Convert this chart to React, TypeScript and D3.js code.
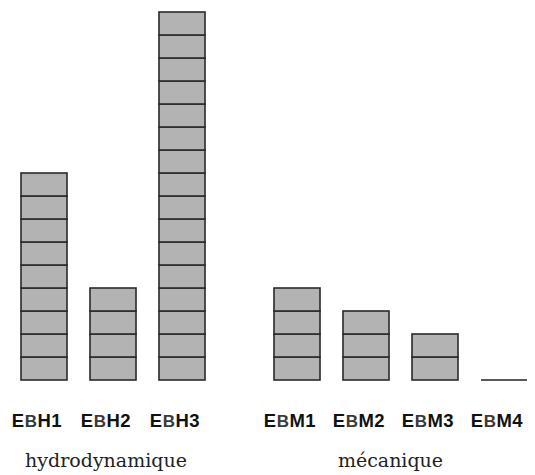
import React from "react";
import * as d3 from "d3";

const groupNames = ["hydrodynamique", "mécanique"];
const categories = ["EBH1", "EBH2", "EBH3", "EBM1", "EBM2", "EBM3", "EBM4"];
const categoryGroup = [0, 0, 0, 1, 1, 1, 1];
const counts = [9, 4, 16, 4, 3, 2, 0];

const W = 535;
const H = 475;

export default function App() {
  const y = d3.scaleLinear().domain([0, 16]).range([380, 12]);
  const x = d3.scaleLinear().domain([0, 1]).range([21, 90]);
  const groupGap = 2 / 3;
  const slot = (i: number) => i + categoryGroup[i] * groupGap;
  const barW = (x(1) - x(0)) * (2 / 3);

  const groupCenters = groupNames.map((_, g) => {
    const idx = categories.map((_, i) => i).filter((i) => categoryGroup[i] === g);
    const l = x(slot(idx[0]));
    const r = x(slot(idx[idx.length - 1])) + barW;
    return (l + r) / 2;
  });

  return (
    <svg
      width={W}
      height={H}
      style={{ position: "absolute", left: 0, top: 0, background: "#fff" }}
    >
      {categories.map((c, i) => {
        const x0 = x(slot(i));
        const n = counts[i];
        const blocks = d3.range(n);
        return (
          <g key={c}>
            {blocks.map((k) => (
              <rect
                key={k}
                x={x0}
                y={y(k + 1)}
                width={barW}
                height={y(k) - y(k + 1)}
                fill="#b3b3b3"
                stroke="#2a2a2a"
                strokeWidth={1.6}
              />
            ))}
            {n === 0 && (
              <line x1={x0} x2={x0 + barW} y1={y(0)} y2={y(0)} stroke="#222" strokeWidth={1.6} />
            )}
            <text
              x={x0 + barW / 2 - 7}
              y={427}
              textAnchor="middle"
              fontFamily="Liberation Sans, Arial, sans-serif"
              fontWeight="bold"
              fontSize={18.5}
              fill="#111"
              letterSpacing={0.5}
            >
              {c[0]}
              <tspan fontSize={17} fill="#3a3a3a">{c[1]}</tspan>
              {c.slice(2)}
            </text>
          </g>
        );
      })}
      {groupNames.map((g, gi) => (
        <text
          key={g}
          x={groupCenters[gi] - (gi === 0 ? 7 : 10)}
          y={467}
          textAnchor="middle"
          fontFamily="DejaVu Serif, serif"
          fontSize={19}
          fill="#222"
        >
          {g}
        </text>
      ))}
    </svg>
  );
}
